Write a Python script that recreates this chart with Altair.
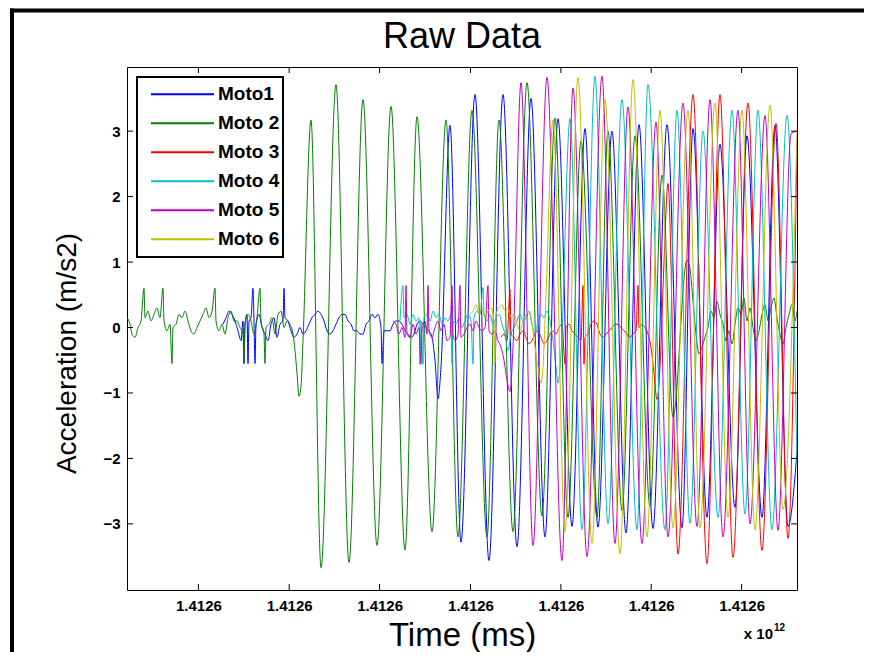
import altair as alt
import pandas as pd

FONT = "Liberation Sans"

series_names = ["Moto1", "Moto 2", "Moto 3", "Moto 4", "Moto 5", "Moto 6"]
series_colors = ["#0000FF", "#008000", "#FF0000", "#00BFBF", "#BF00BF", "#BFBF00"]

x_domain = [127, 797]
y_domain = [-4.01, 3.98]
x_ticks = [198.4, 289.2, 379.6, 470.5, 560.9, 651.2, 741.6]
x_tick_label = "1.4126"
y_ticks = [-3, -2, -1, 0, 1, 2, 3]

# (time, acceleration) samples
moto1 = [(223, 0.05), (226, 0.15), (229, 0.25), (232, 0.2), (235, 0.1), (238, -0.05), (241, -0.2), (243, 0.1),
         (244, -0.55), (245, 0.05), (247, 0.2), (248, -0.55), (249, 0.1), (251, 0.15), (253, 0.6), (254, 0.1),
         (255, -0.55), (256, 0.05), (259, 0.2), (262, 0.0), (265, -0.1), (268, -0.2), (271, 0.05), (274, 0.15),
         (277, -0.15), (280, 0.05), (283, 0.1), (284, 0.6), (285, 0.15), (288, 0.1), (291, -0.05), (294, -0.15),
         (297, -0.1), (300, 0.0), (303, -0.1), (306, -0.05), (309, 0.05), (312, 0.15), (315, 0.2), (318, 0.25),
         (321, 0.2), (324, 0.1), (327, -0.05), (330, -0.1), (333, -0.05), (336, 0.05), (339, 0.15), (342, 0.2),
         (345, 0.2), (348, 0.1), (351, 0.05), (354, -0.05), (357, -0.05), (360, -0.1), (363, -0.1), (366, 0.05),
         (369, 0.1), (372, 0.2), (375, 0.15), (378, 0.2), (381, 0.0), (382, -0.55), (384, -0.05), (387, -0.05),
         (390, -0.05), (393, 0.05), (396, 0.1), (399, 0.1), (402, 0.05), (405, -0.05), (408, -0.1), (411, -0.15),
         (414, -0.1), (417, 0.05), (420, 0.1), (423, 0.05), (426, 0.0), (429, -0.05), (432, -0.15), (435, -0.5),
         (438, -1.09), (441, -0.6), (450, 3.09), (461, -3.28), (475, 3.56), (489, -3.56), (503, 3.56), (517, -3.35),
         (531, 3.5), (545, -3.2), (558, 3.19), (572, -3.04), (585, 3.04), (598, -3.05), (612, 3.0), (626, -3.14),
         (639, 3.1), (653, -3.07), (667, 3.1), (682, -3.06), (693, 3.04), (707, -2.9), (720, 2.8), (735, -2.75),
         (747, 2.93), (762, -2.9), (775, 3.09), (788, -3.04), (797, -1.9)]

moto2 = [(127, 0.15), (130, 0.05), (132, -0.1), (135, -0.15), (138, 0.0), (141, 0.1), (144, 0.6), (145, 0.15),
         (148, 0.25), (151, 0.1), (154, 0.2), (157, 0.3), (160, 0.15), (163, 0.6), (164, 0.1), (167, -0.05),
         (170, 0.05), (172, -0.55), (173, 0.0), (176, 0.05), (179, 0.2), (182, 0.15), (185, 0.25), (188, 0.1),
         (191, -0.05), (194, -0.1), (197, 0.0), (200, 0.1), (203, 0.2), (206, 0.3), (209, 0.15), (212, 0.25),
         (215, 0.6), (216, 0.1), (219, -0.05), (222, 0.05), (225, -0.1), (228, 0.15), (231, 0.25), (234, 0.1),
         (237, 0.1), (240, 0.0), (243, -0.1), (244, -0.55), (245, 0.05), (248, 0.2), (251, 0.1), (254, -0.1),
         (257, 0.15), (260, 0.6), (261, 0.1), (264, -0.1), (265, -0.55), (266, 0.0), (269, 0.05), (272, 0.15),
         (275, -0.1), (278, 0.2), (281, 0.25), (284, 0.0), (287, 0.1), (290, 0.05), (293, -0.1), (295, -0.35),
         (297, -0.7), (299, -1.05), (301, -0.9), (303, -0.2), (311, 3.17), (321, -3.67), (336, 3.71), (349, -3.59),
         (363, 3.48), (377, -3.33), (391, 3.38), (405, -3.4), (417, 3.22), (432, -3.12), (446, 3.17), (458, -3.2),
         (472, 3.32), (487, -3.2), (499, 3.17), (513, -3.12), (527, 3.74), (542, -2.88), (555, 3.2), (568, -2.9),
         (581, 2.85), (597, -2.9), (608, 3.0), (622, -2.8), (635, 2.93), (650, -2.73), (662, 2.33), (673, -1.37),
         (687, 1.03), (690, 0.9), (693, 0.4), (696, -0.1), (699, -0.4), (702, -0.3), (705, -0.15), (708, 0.0),
         (711, 0.25), (714, 0.15), (717, 0.4), (720, 0.2), (723, 0.05), (726, -0.2), (729, -0.05), (732, -0.25),
         (735, 0.05), (738, 0.3), (741, 0.2), (744, 0.45), (747, 0.1), (750, 0.3), (753, 0.0), (756, -0.2),
         (759, -0.05), (762, 0.2), (765, 0.35), (768, 0.1), (771, 0.3), (774, 0.45), (777, 0.15), (780, -0.1),
         (783, -0.25), (786, 0.0), (789, 0.2), (792, 0.35), (795, 0.1), (797, 0.25)]

moto3 = [(501, -0.15), (504, -0.1), (507, -0.2), (510, 0.58), (511, -0.1), (514, -0.15), (517, -0.2), (520, -0.1),
         (523, -0.05), (526, -0.15), (529, -0.25), (532, -0.2), (535, -0.1), (538, -0.05), (541, -0.15), (544, -0.25),
         (547, -0.2), (550, -0.1), (553, -0.05), (556, -0.1), (559, 0.0), (562, 0.05), (565, -0.56), (566, 0.0),
         (569, 0.05), (572, -0.05), (575, -0.1), (578, -0.15), (581, -0.2), (583, 0.64), (584, -0.56), (585, -0.15),
         (588, -0.1), (591, 0.05), (594, 0.1), (597, 0.05), (600, -0.1), (603, -0.15), (606, -0.1), (609, -0.05),
         (612, 0.0), (615, 0.05), (618, 0.05), (621, 0.0), (624, -0.05), (627, -0.1), (630, -0.15), (633, -0.1),
         (636, -0.05), (638, 0.64), (639, 0.0), (642, 0.05), (645, 0.0), (648, -0.1), (651, -0.3), (654, -0.7),
         (657, -1.1), (660, -0.6), (664, 1.0), (668, 2.2), (678, -3.46), (693, 3.56), (707, -3.61), (720, 3.56),
         (733, -3.51), (748, 3.43), (762, -3.41), (776, 3.12), (788, -3.22), (797, 2.9)]

moto4 = [(400, 0.1), (403, 0.64), (404, 0.15), (407, 0.2), (410, 0.05), (413, 0.2), (416, 0.1), (419, 0.15),
         (420, -0.56), (421, 0.1), (423, -0.56), (424, 0.15), (427, 0.2), (430, 0.1), (433, 0.25), (436, 0.15),
         (439, 0.2), (442, 0.05), (445, 0.15), (448, 0.1), (451, 0.2), (452, -0.56), (453, 0.1), (456, 0.05),
         (459, 0.15), (462, 0.0), (465, 0.1), (468, 0.2), (471, 0.1), (473, -0.56), (474, 0.15), (477, 0.25),
         (480, 0.2), (483, 0.61), (484, 0.2), (487, 0.1), (490, 0.2), (493, 0.05), (496, 0.15), (499, 0.2),
         (502, 0.05), (505, -0.1), (508, -0.35), (511, -0.1), (514, 0.0), (517, 0.1), (520, 0.2), (523, 0.1),
         (526, 0.15), (529, 0.25), (532, 0.05), (535, -0.1), (538, 0.1), (541, 0.2), (544, 0.15), (547, 0.25),
         (550, 0.1), (553, -0.2), (556, -0.6), (558, -0.85), (561, -0.4), (570, 3.19), (582, -3.09), (595, 3.84),
         (608, -3.0), (622, 3.48), (637, -3.09), (648, 3.71), (665, -3.09), (677, 3.32), (690, -2.99), (703, 3.0),
         (718, -2.9), (732, 3.32), (745, -2.85), (758, 3.32), (772, -3.09), (787, 3.24), (797, -2.1)]

moto5 = [(393, 0.1), (396, 0.05), (399, -0.1), (402, 0.0), (405, -0.15), (406, 0.64), (407, -0.1), (410, -0.15),
         (413, 0.05), (416, -0.1), (419, 0.0), (421, -0.56), (422, -0.05), (425, 0.1), (427, -0.1), (428, 0.64),
         (429, -0.05), (432, -0.15), (435, 0.0), (438, 0.1), (441, -0.05), (444, 0.05), (447, -0.2), (450, -0.15),
         (452, 0.64), (453, -0.1), (455, -0.2), (458, -0.1), (460, 0.64), (461, -0.15), (464, -0.1), (467, 0.0),
         (470, 0.05), (473, -0.05), (476, 0.1), (479, 0.0), (482, -0.05), (485, 0.0), (488, 0.64), (489, -0.05),
         (492, -0.1), (495, -0.05), (498, -0.2), (501, -0.3), (504, -0.5), (507, -0.8), (510, -0.98), (513, -0.3),
         (521, 3.74), (533, -3.33), (547, 3.82), (562, -3.56), (573, 3.66), (587, -3.5), (602, 3.84), (615, -3.3),
         (628, 3.37), (642, -3.3), (656, 3.14), (668, -3.2), (683, 3.43), (697, -3.04), (710, 3.48), (723, -3.2),
         (738, 3.32), (750, -3.0), (765, 3.24), (778, -3.1), (791, 2.96), (797, 3.0)]

moto6 = [(470, 0.2), (473, 0.25), (476, 0.35), (479, 0.2), (482, 0.3), (485, 0.15), (488, 0.25), (491, 0.3),
         (494, 0.1), (495, -0.54), (496, 0.2), (499, 0.3), (502, 0.35), (505, 0.25), (508, 0.3), (511, 0.15),
         (514, 0.2), (517, 0.05), (520, -0.05), (523, 0.1), (526, 0.2), (529, 0.25), (532, 0.05), (535, -0.3),
         (538, -0.6), (541, -0.85), (543, -0.6), (546, 0.5), (553, 3.17), (565, -3.12), (578, 3.82), (592, -3.3),
         (605, 3.48), (620, -3.46), (633, 3.79), (647, -3.2), (660, 3.32), (673, -3.06), (688, 3.32), (700, -3.06),
         (715, 3.43), (728, -2.9), (742, 3.32), (755, -3.09), (770, 3.4), (783, -2.78), (797, 3.0)]

series_data = [moto1, moto2, moto3, moto4, moto5, moto6]

rows = []
for name, pts in zip(series_names, series_data):
    for i, (t, v) in enumerate(pts):
        rows.append({"series": name, "t": t, "v": v, "i": i})
df = pd.DataFrame(rows)

W, H = 670, 523
TICK = 6

xscale = alt.Scale(domain=x_domain, nice=False, zero=False)
yscale = alt.Scale(domain=y_domain, nice=False, zero=False)

x_axis = alt.Axis(values=x_ticks, labelExpr=f"'{x_tick_label}'", title="Time (ms)",
                  ticks=False, domain=False, grid=False, labelPadding=8,
                  labelFont=FONT, labelFontSize=15, labelFontWeight="bold", labelColor="black",
                  titleFont=FONT, titleFontSize=33, titleFontWeight="normal", titleColor="black",
                  titlePadding=6, labelFlush=False)
y_axis = alt.Axis(values=y_ticks, format="d", title="Acceleration (m/s2)",
                  ticks=False, domain=False, grid=False, labelPadding=7,
                  labelFont=FONT, labelFontSize=15, labelFontWeight="bold", labelColor="black",
                  titleFont=FONT, titleFontSize=28, titleFontWeight="normal", titleColor="black",
                  titlePadding=21, titleY=286)

NBSP = "\u00a0"
lines = alt.Chart(df).mark_line(strokeWidth=1, interpolate="monotone", clip=True).encode(
    x=alt.X("t:Q", scale=xscale, axis=x_axis),
    y=alt.Y("v:Q", scale=yscale, axis=y_axis),
    color=alt.Color("series:N", scale=alt.Scale(domain=series_names, range=series_colors),
                    legend=alt.Legend(orient="none", legendX=10, legendY=10, title=None,
                                      symbolType="stroke", symbolSize=3969, symbolStrokeWidth=2,
                                      clipHeight=28.7, rowPadding=0, padding=3, symbolOffset=10,
                                      labelFont=FONT, labelFontSize=19, labelFontWeight="bold",
                                      labelColor="black", labelOffset=3,
                                      labelExpr=f"datum.label + '{NBSP * 2}'",
                                      strokeColor="black", fillColor="white")),
    order=alt.Order("i:Q"),
)

one = alt.Data(values=[{"k": 1}])
xt = pd.DataFrame({"t": x_ticks})
yt = pd.DataFrame({"v": y_ticks})

tick_top = alt.Chart(xt).mark_rule(color="black", strokeWidth=1).encode(
    x=alt.X("t:Q", scale=xscale, axis=x_axis), y=alt.value(0), y2=alt.value(TICK))
tick_bot = alt.Chart(xt).mark_rule(color="black", strokeWidth=1).encode(
    x=alt.X("t:Q", scale=xscale, axis=x_axis), y=alt.value(H - TICK), y2=alt.value(H))
tick_left = alt.Chart(yt).mark_rule(color="black", strokeWidth=1).encode(
    y=alt.Y("v:Q", scale=yscale, axis=y_axis), x=alt.value(0), x2=alt.value(TICK))
tick_right = alt.Chart(yt).mark_rule(color="black", strokeWidth=1).encode(
    y=alt.Y("v:Q", scale=yscale, axis=y_axis), x=alt.value(W - TICK), x2=alt.value(W))

title_txt = alt.Chart(one).mark_text(font=FONT, fontSize=36, align="center", baseline="alphabetic",
                                     color="black").encode(
    x=alt.value(W / 2), y=alt.value(-19), text=alt.value("Raw Data"))
exp_base = alt.Chart(one).mark_text(font=FONT, fontSize=15, fontWeight="bold", align="right",
                                    baseline="alphabetic", color="black").encode(
    x=alt.value(646), y=alt.value(572), text=alt.value("x 10"))
exp_sup = alt.Chart(one).mark_text(font=FONT, fontSize=10, fontWeight="bold", align="left",
                                   baseline="alphabetic", color="black").encode(
    x=alt.value(647), y=alt.value(564), text=alt.value("12"))

frame_top = alt.Chart(one).mark_rule(color="black", strokeWidth=4, clip=False).encode(
    x=alt.value(-117), x2=alt.value(750), y=alt.value(-56.5))
frame_left = alt.Chart(one).mark_rule(color="black", strokeWidth=4, clip=False).encode(
    x=alt.value(-115), y=alt.value(-58.5), y2=alt.value(600))

chart = alt.layer(
    lines, tick_top, tick_bot, tick_left, tick_right, title_txt, exp_base, exp_sup, frame_top, frame_left
).properties(
    width=W, height=H,
    autosize=alt.AutoSizeParams(type="none"),
    padding={"left": 119, "top": 59, "right": 67, "bottom": 62},
).configure(
    background="white",
).configure_view(
    stroke="black", strokeWidth=1,
).configure_axis(
    labelFont=FONT, labelFontSize=15, labelFontWeight="bold", labelColor="black",
).configure_legend(
    strokeWidth=2,
)

chart.save("out.html", embed_options={"renderer": "svg", "actions": False})
